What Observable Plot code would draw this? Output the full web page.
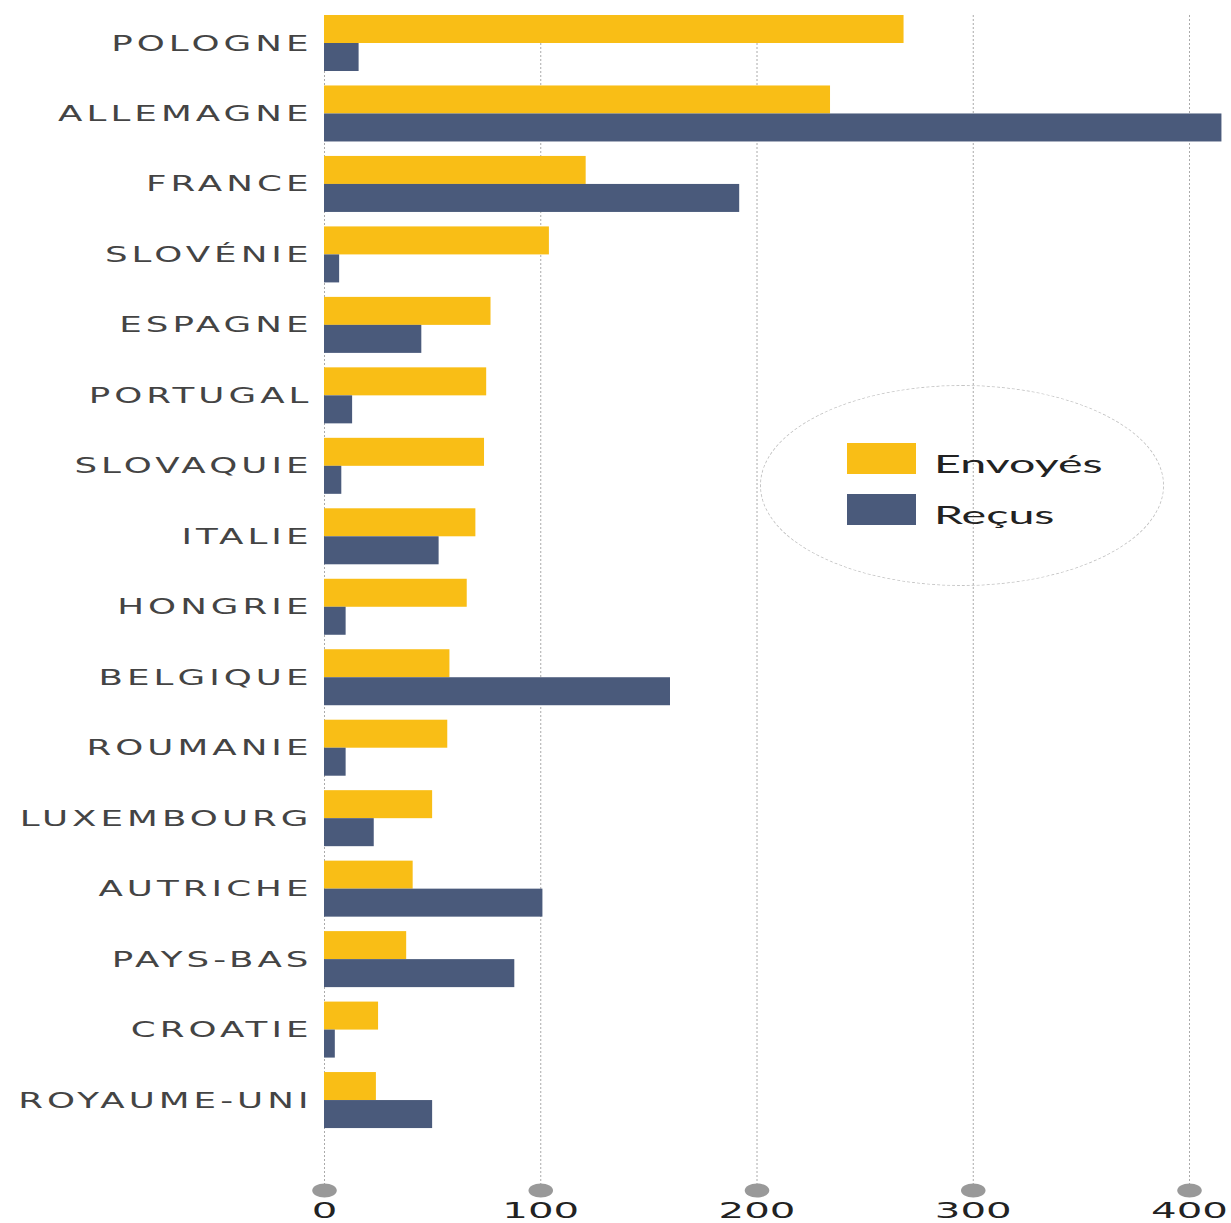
<!DOCTYPE html>
<html>
<head>
<meta charset="utf-8">
<script src="https://cdn.jsdelivr.net/npm/d3@7"></script>
<script src="https://cdn.jsdelivr.net/npm/@observablehq/plot@0.6"></script>
<style>
  body { margin: 0; background: #fff; }
  #wrap { position: relative; width: 1231px; height: 1223px; }
  #legend { position: absolute; left: 760px; top: 385px; width: 404px; height: 201px;
    border: 1px dashed #c4c4c4; border-radius: 50%; box-sizing: border-box; }
  .sw { position: absolute; left: 86px; width: 69px; height: 31px; }
  .lt { position: absolute; left: 173px; font-family: Lato, sans-serif; font-size: 25px; color: #222;
    transform-origin: left center; transform: scaleX(1.86); white-space: nowrap; line-height: 1; }
</style>
</head>
<body>
<div id="wrap"></div>
<script>
const countries = ["POLOGNE","ALLEMAGNE","FRANCE","SLOVÉNIE","ESPAGNE","PORTUGAL","SLOVAQUIE","ITALIE","HONGRIE","BELGIQUE","ROUMANIE","LUXEMBOURG","AUTRICHE","PAYS-BAS","CROATIE","ROYAUME-UNI"];
const envoyes = [268,234,121,104,77,75,74,70,66,58,57,50,41,38,25,24];
const recus   = [16,415,192,7,45,13,8,53,10,160,10,23,101,88,5,50];
const seriesNames = ["Envoyés","Reçus"];
const seriesColors = ["#F9BE16","#4A5A7B"];
const xTicks = [0,100,200,300,400];

const rows = countries.map((c,i) => ({country: c, envoyes: envoyes[i], recus: recus[i]}));

const ellipse = {
  draw(ctx, size) {
    const r = Math.sqrt(size / Math.PI);
    const rx = r * 1.75, ry = r, k = 0.5523;
    ctx.moveTo(rx, 0);
    ctx.bezierCurveTo(rx, ry * k, rx * k, ry, 0, ry);
    ctx.bezierCurveTo(-rx * k, ry, -rx, ry * k, -rx, 0);
    ctx.bezierCurveTo(-rx, -ry * k, -rx * k, -ry, 0, -ry);
    ctx.bezierCurveTo(rx * k, -ry, rx, -ry * k, rx, 0);
    ctx.closePath();
  }
};

const svg = Plot.plot({
  width: 1231,
  height: 1223,
  marginLeft: 324,
  marginRight: 42,
  marginTop: 15,
  marginBottom: 33,
  style: {fontFamily: "'DejaVu Sans', sans-serif", background: "#fff"},
  x: {domain: [0, 400], ticks: xTicks},
  y: {domain: countries, paddingInner: 0.2053, paddingOuter: 0.4395, align: 0, round: false},
  marks: [
    Plot.ruleX(xTicks, {x: d => d, stroke: "#aaa", strokeWidth: 1, strokeDasharray: "2,2"}),
    Plot.barX(rows, {y: "country", x: "envoyes", fill: seriesColors[0], insetBottom: 28}),
    Plot.barX(rows, {y: "country", x: "recus", fill: seriesColors[1], insetTop: 28}),
    Plot.dot(xTicks, {x: d => d, frameAnchor: "bottom", symbol: ellipse, r: 7, fill: "#999", stroke: null}),
    Plot.axisX({ticks: xTicks, anchor: "bottom", tickSize: 0, tickPadding: 12, fontSize: 22, fill: "#222", label: null, tickFormat: d => String(d)}),
    Plot.axisY({anchor: "left", tickSize: 0, tickPadding: 12, fontSize: 22, fill: "#444", label: null})
  ]
});

const wrap = document.getElementById("wrap");
wrap.appendChild(svg);

function stretch(sel, s, spacing) {
  sel.each(function() {
    if (spacing) this.style.letterSpacing = spacing + "px";
    const len = this.getComputedTextLength();
    this.setAttribute("textLength", (len * s).toFixed(1));
    this.setAttribute("lengthAdjust", "spacingAndGlyphs");
  });
}
const s = d3.select(svg);
stretch(s.selectAll('g[aria-label="y-axis tick label"] text'), 1.62, 2.5);
stretch(s.selectAll('g[aria-label="x-axis tick label"] text'), 1.83, 0);

const legend = document.createElement("div");
legend.id = "legend";
seriesNames.forEach((name, i) => {
  const sw = document.createElement("div");
  sw.className = "sw";
  sw.style.top = (57 + i * 51) + "px";
  sw.style.background = seriesColors[i];
  legend.appendChild(sw);
  const t = document.createElement("div");
  t.className = "lt";
  t.style.top = (65 + i * 51) + "px";
  t.textContent = name;
  legend.appendChild(t);
});
wrap.appendChild(legend);
</script>
</body>
</html>
